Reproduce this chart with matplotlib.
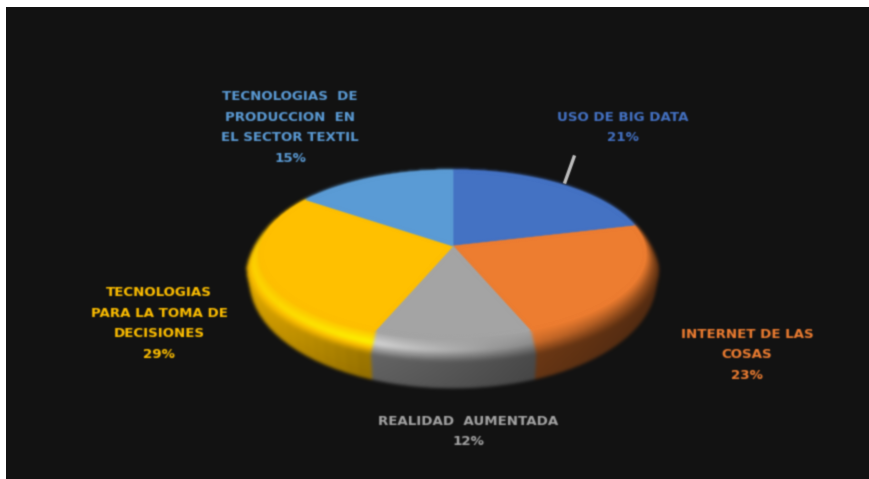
import numpy as np
import matplotlib
matplotlib.use('Agg')
import matplotlib.pyplot as plt
from matplotlib.collections import PolyCollection
from matplotlib.patches import Rectangle
from matplotlib.transforms import Transform

categories = ['USO DE BIG DATA', 'INTERNET DE LAS\nCOSAS', 'REALIDAD  AUMENTADA',
              'TECNOLOGIAS\nPARA LA TOMA DE\nDECISIONES',
              'TECNOLOGIAS  DE\nPRODUCCION  EN\nEL SECTOR TEXTIL']
values = [21, 23, 12, 29, 15]
colors = ['#4472C4', '#ED7D31', '#A5A5A5', '#FFC000', '#5B9BD5']

label_x = [623, 747, 468, 159, 290]
label_y = [127.5, 355, 431.5, 323.5, 127.5]

CX, CY = 453, 246
RX, RY, K = 192, 83, 0.095


class Persp(Transform):
    input_dims = 2
    output_dims = 2
    is_affine = False

    def transform_non_affine(self, values):
        v = np.asarray(values)
        w = 1 + K * v[:, 1]
        return np.column_stack([CX + RX * v[:, 0] / w, CY - RY * v[:, 1] / w])


def rim_points(theta, u):
    c, s = np.cos(np.radians(theta)), np.sin(np.radians(theta))
    w = 1 + K * s
    g = np.clip((0.4 - s) / 0.5, 0, 1)
    scale = 1 + (np.interp(u, [0, .5, 1], [1, 1.067, 1.05]) - 1) * g
    d = np.interp(u, [0, .5, 1], [0, 24, 50]) * (1 - s) / 2 * g
    return CX + RX * scale * c / w, CY - RY * s / w + d


def shade(x, u):
    peak = np.interp(x, [-1, -.35, .2, 1], [1.12, 1.3, .95, .6])
    wall = np.interp(x, [-1, -.4, .4, 1], [.88, .62, .46, .36])
    if u < .25:
        return (1 - u / .25) + peak * u / .25
    if u < .5:
        return peak + (wall - peak) * (u - .25) / .25
    return wall * (1 - .12 * (u - .5))


def blur(sigma):
    # soft look of the reference, which is an enlarged low resolution picture
    def apply(img, dpi):
        pad = int(3 * sigma) + 1
        xs = np.arange(-pad, pad + 1)
        kernel = np.exp(-xs ** 2 / (2 * sigma ** 2))
        kernel /= kernel.sum()
        out = np.pad(img, ((pad, pad), (pad, pad), (0, 0)))
        out[..., :3] *= out[..., 3:]
        for axis in (0, 1):
            out = np.apply_along_axis(lambda m: np.convolve(m, kernel, mode='same'), axis, out)
        out[..., :3] /= np.maximum(out[..., 3:], 1e-4)
        return np.clip(out, 0, 1), -pad, -pad
    return apply


fig = plt.figure(figsize=(8.69, 4.79), dpi=100, facecolor='white')
ax = fig.add_axes([0, 0, 1, 1])
wedges, _ = ax.pie(values, colors=colors, startangle=90, counterclock=False,
                   wedgeprops={'linewidth': 0})
ax.set_aspect('auto')
ax.set_xlim(0, 869)
ax.set_ylim(479, 0)
ax.axis('off')
ax.add_patch(Rectangle((6, 7), 870, 480, facecolor='#121212', edgecolor='none', zorder=0))

# rim first, from the bottom of the wall up to the flat face
us = np.linspace(1, 0, 31)
polys, fills = [], []
for wedge, col in zip(wedges, colors):
    base = np.array(matplotlib.colors.to_rgb(col))
    thetas = np.linspace(wedge.theta1, wedge.theta2, 31)
    for u0, u1 in zip(us[:-1], us[1:]):
        for t0, t1 in zip(thetas[:-1], thetas[1:]):
            tt = np.array([t0, t1])
            x0, y0 = rim_points(tt, u0)
            x1, y1 = rim_points(tt, u1)
            polys.append([(x0[0], y0[0]), (x0[1], y0[1]), (x1[1], y1[1]), (x1[0], y1[0])])
            fac = shade((x0.mean() - CX) / 205, (u0 + u1) / 2)
            fills.append(np.clip(base * fac, 0, 1))
# flat face again in the rim layer, so the blur has no hole to fade into
for wedge, col in zip(wedges, colors):
    xs, ys = rim_points(np.linspace(wedge.theta1, wedge.theta2, 61), 0.0)
    polys.append([(CX, CY)] + list(zip(xs, ys)))
    fills.append(np.array(matplotlib.colors.to_rgb(col)))
rim = PolyCollection(polys, facecolors=fills, edgecolors=fills, linewidths=.8, zorder=2)
rim.set_agg_filter(blur(1.2))
ax.add_collection(rim)

persp = Persp() + ax.transData
for wedge in wedges:
    wedge.set_transform(persp)
    wedge.set_zorder(3)
    wedge.set_edgecolor(wedge.get_facecolor())
    wedge.set_linewidth(.3)
    wedge.set_agg_filter(blur(.9))

ax.plot([574, 565], [157, 182], color='#BFBFBF', lw=2.4, zorder=4, agg_filter=blur(.6))

for name, val, col, x, y in zip(categories, values, colors, label_x, label_y):
    ax.text(x, y, f'{name}\n{val}%', color=col, ha='center', va='center', fontsize=9.6,
            family='DejaVu Sans', fontweight='bold', linespacing=1.76, zorder=5,
            agg_filter=blur(.7))

fig.savefig('out.png', dpi=100, facecolor=fig.get_facecolor())
